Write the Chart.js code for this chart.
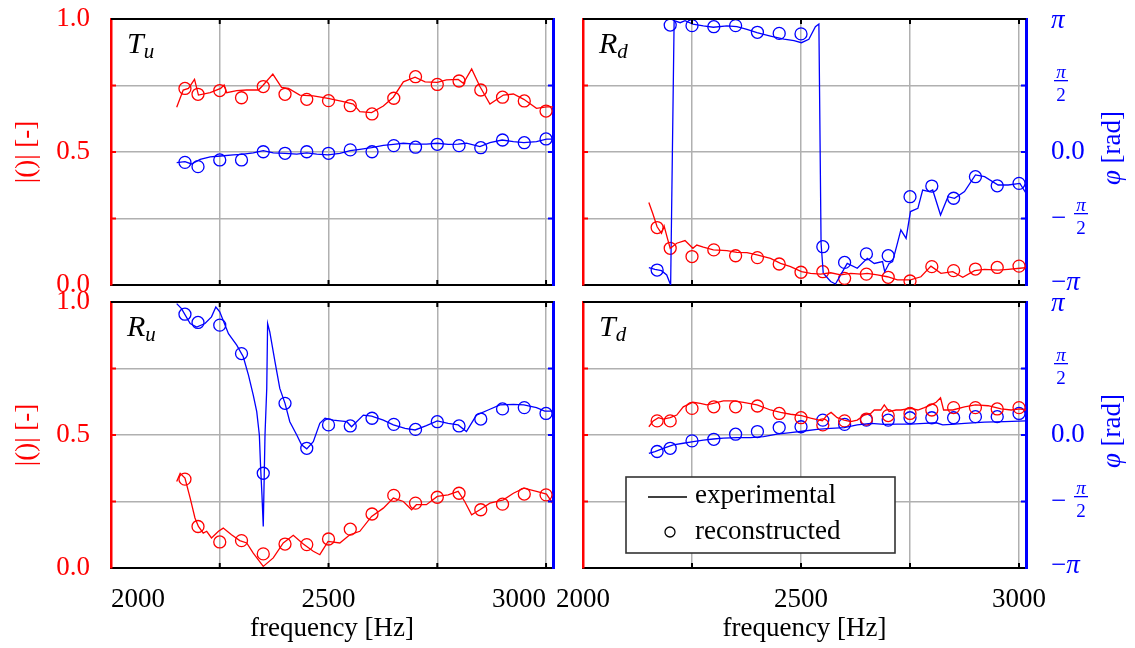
<!DOCTYPE html>
<html>
<head>
<meta charset="utf-8">
<script src="https://cdn.jsdelivr.net/npm/chart.js@4.4.1/dist/chart.umd.min.js"></script>
<style>
  html, body { margin: 0; padding: 0; background: #fff; }
  #wrap { position: relative; width: 1135px; height: 648px; }
  canvas { position: absolute; left: 0; top: 0; }
</style>
</head>
<body>
<div id="wrap">
  <canvas id="tu" width="1135" height="648"></canvas>
  <canvas id="rd" width="1135" height="648"></canvas>
  <canvas id="ru" width="1135" height="648"></canvas>
  <canvas id="td" width="1135" height="648"></canvas>
</div>
<script>
// axis ticks
const freqTicks = [2000, 2250, 2500, 2750, 3000];
const freqLabels = ['2000', '', '2500', '', '3000'];
const magTicks = [0, 0.25, 0.5, 0.75, 1];
const magLabels = ['0.0', '', '0.5', '', '1.0'];
const phaseTicks = [-Math.PI, -Math.PI / 2, 0, Math.PI / 2, Math.PI];

// reconstructed points (same frequencies in every panel)
const recFreq = [2170, 2200, 2250, 2300, 2350, 2400, 2450, 2500, 2550, 2600, 2650, 2700, 2750, 2800, 2850, 2900, 2950, 3000];

// T_u
const tuMagFreq = [2151, 2166, 2178, 2192, 2201, 2228, 2252, 2260, 2266, 2289, 2312, 2339, 2350, 2372, 2392, 2408, 2434, 2465, 2499, 2534, 2557, 2572, 2599, 2626, 2649, 2672, 2699, 2722, 2750, 2771, 2798, 2810, 2829, 2848, 2871, 2902, 2925, 2949, 2978, 3001, 3016];
const tuMag = [0.668, 0.733, 0.739, 0.773, 0.714, 0.723, 0.739, 0.752, 0.723, 0.731, 0.733, 0.733, 0.752, 0.793, 0.743, 0.739, 0.714, 0.711, 0.702, 0.689, 0.680, 0.652, 0.648, 0.673, 0.706, 0.764, 0.781, 0.764, 0.762, 0.771, 0.773, 0.758, 0.812, 0.746, 0.680, 0.714, 0.718, 0.698, 0.664, 0.670, 0.670];
const tuMagRec = [0.739, 0.717, 0.731, 0.704, 0.746, 0.717, 0.698, 0.693, 0.674, 0.643, 0.702, 0.783, 0.754, 0.767, 0.733, 0.706, 0.692, 0.654];
const tuPhFreq = [2151, 2170, 2185, 2205, 2228, 2252, 2281, 2300, 2327, 2350, 2373, 2400, 2427, 2450, 2473, 2499, 2526, 2550, 2572, 2599, 2626, 2649, 2672, 2699, 2725, 2750, 2775, 2798, 2817, 2848, 2871, 2899, 2925, 2949, 2978, 3001, 3016];
const tuPh = [-0.251, -0.226, -0.283, -0.176, -0.113, -0.094, -0.069, -0.057, -0.019, 0.031, -0.019, -0.031, -0.050, -0.019, -0.050, -0.069, -0.031, 0.031, 0.063, 0.101, 0.157, 0.182, 0.207, 0.188, 0.188, 0.207, 0.182, 0.188, 0.207, 0.126, 0.220, 0.283, 0.245, 0.220, 0.245, 0.302, 0.302];
const tuPhRec = [-0.245, -0.346, -0.188, -0.188, 0.006, -0.031, 0.006, -0.031, 0.050, 0.006, 0.151, 0.113, 0.182, 0.151, 0.101, 0.283, 0.220, 0.308];

// R_d
const rdMagFreq = [2151, 2160, 2170, 2180, 2186, 2193, 2200, 2215, 2234, 2252, 2261, 2276, 2299, 2330, 2353, 2376, 2399, 2430, 2453, 2476, 2501, 2522, 2545, 2568, 2591, 2614, 2637, 2652, 2675, 2698, 2721, 2751, 2775, 2798, 2821, 2848, 2871, 2898, 2921, 2952, 2975, 3002, 3016];
const rdMag = [0.310, 0.269, 0.219, 0.194, 0.222, 0.179, 0.138, 0.157, 0.167, 0.138, 0.150, 0.142, 0.132, 0.129, 0.123, 0.122, 0.113, 0.100, 0.081, 0.069, 0.050, 0.044, 0.041, 0.046, 0.038, 0.044, 0.041, 0.044, 0.038, 0.031, 0.019, 0.019, 0.031, 0.071, 0.044, 0.050, 0.029, 0.054, 0.059, 0.056, 0.059, 0.063, 0.065];
const rdMagRec = [0.216, 0.138, 0.107, 0.132, 0.110, 0.103, 0.079, 0.048, 0.050, 0.025, 0.041, 0.029, 0.015, 0.069, 0.054, 0.060, 0.066, 0.071];
const rdPhFreq = [2151, 2165, 2180, 2192, 2201, 2209, 2223, 2234, 2252, 2276, 2299, 2330, 2353, 2376, 2399, 2430, 2461, 2484, 2501, 2518, 2533, 2541, 2546, 2551, 2568, 2579, 2591, 2606, 2629, 2652, 2668, 2687, 2692, 2702, 2710, 2720, 2729, 2741, 2751, 2768, 2779, 2794, 2802, 2820, 2837, 2852, 2875, 2900, 2921, 2952, 2975, 3002, 3016];
const rdPh = [-2.733, -2.771, -2.802, -2.903, -3.142, 3.104, 3.054, 3.104, 3.023, 2.978, 2.947, 2.978, 2.960, 2.897, 2.821, 2.739, 2.664, 2.633, 2.582, 2.664, 2.960, 3.023, -2.155, -2.865, -3.060, -3.117, -2.903, -2.633, -2.746, -2.513, -2.633, -2.589, -2.827, -2.633, -2.589, -2.199, -1.841, -2.042, -1.407, -1.332, -0.898, -0.936, -0.898, -1.489, -1.056, -1.093, -0.936, -0.540, -0.584, -0.779, -0.779, -0.741, -0.974];
const rdPhRec = [-2.789, 2.998, 2.985, 2.960, 2.985, 2.827, 2.802, 2.790, -2.237, -2.608, -2.407, -2.450, -1.056, -0.804, -1.093, -0.584, -0.798, -0.741];

// R_u
const ruMagFreq = [2151, 2159, 2170, 2182, 2193, 2201, 2212, 2220, 2231, 2247, 2258, 2277, 2296, 2312, 2327, 2350, 2373, 2396, 2419, 2442, 2465, 2480, 2499, 2526, 2549, 2572, 2599, 2626, 2649, 2672, 2691, 2702, 2725, 2750, 2775, 2798, 2813, 2829, 2848, 2871, 2902, 2925, 2949, 2978, 3001, 3015];
const ruMag = [0.325, 0.356, 0.338, 0.263, 0.188, 0.156, 0.131, 0.138, 0.113, 0.138, 0.150, 0.125, 0.103, 0.094, 0.056, 0.006, 0.038, 0.094, 0.123, 0.090, 0.063, 0.050, 0.100, 0.094, 0.125, 0.138, 0.194, 0.225, 0.263, 0.250, 0.219, 0.238, 0.238, 0.269, 0.275, 0.288, 0.250, 0.200, 0.219, 0.244, 0.256, 0.281, 0.300, 0.288, 0.278, 0.244];
const ruMagRec = [0.334, 0.156, 0.098, 0.103, 0.053, 0.090, 0.088, 0.109, 0.146, 0.203, 0.273, 0.244, 0.266, 0.281, 0.219, 0.240, 0.278, 0.275];
const ruPhFreq = [2151, 2162, 2182, 2197, 2216, 2231, 2241, 2250, 2270, 2289, 2304, 2316, 2327, 2335, 2341, 2344, 2347, 2350, 2354, 2358, 2360, 2365, 2377, 2388, 2400, 2411, 2427, 2438, 2450, 2465, 2480, 2492, 2511, 2526, 2542, 2553, 2580, 2599, 2626, 2649, 2676, 2699, 2725, 2750, 2775, 2798, 2817, 2840, 2867, 2894, 2925, 2949, 2978, 2997, 3015];
const ruPh = [3.104, 2.985, 2.633, 2.551, 2.633, 2.790, 3.023, 2.909, 2.394, 2.124, 1.847, 1.414, 0.942, 0.553, 0, -0.785, -1.414, -2.161, 0, 1.100, 2.633, 2.438, 1.728, 1.100, 0.748, 0.314, 0, -0.232, -0.327, -0.157, 0.276, 0.396, 0.352, 0.333, 0.314, 0.195, 0.471, 0.446, 0.352, 0.239, 0.157, 0.119, 0.220, 0.333, 0.276, 0.239, 0.082, 0.471, 0.591, 0.710, 0.723, 0.710, 0.647, 0.565, 0.565];
const ruPhRec = [2.853, 2.658, 2.595, 1.923, -0.904, 0.748, -0.314, 0.239, 0.214, 0.396, 0.251, 0.132, 0.314, 0.214, 0.377, 0.616, 0.647, 0.509];

// T_d
const tdMagFreq = [2151, 2161, 2173, 2184, 2200, 2215, 2230, 2252, 2269, 2284, 2299, 2322, 2345, 2368, 2399, 2430, 2453, 2476, 2501, 2522, 2549, 2560, 2569, 2583, 2599, 2614, 2629, 2645, 2660, 2668, 2683, 2691, 2702, 2718, 2729, 2751, 2768, 2783, 2798, 2810, 2820, 2827, 2848, 2875, 2900, 2929, 2959, 2982, 3002, 3016];
const tdMag = [0.531, 0.553, 0.565, 0.560, 0.565, 0.575, 0.606, 0.623, 0.619, 0.613, 0.619, 0.628, 0.628, 0.623, 0.613, 0.594, 0.585, 0.578, 0.573, 0.563, 0.553, 0.575, 0.585, 0.565, 0.556, 0.550, 0.556, 0.575, 0.581, 0.594, 0.594, 0.613, 0.588, 0.594, 0.594, 0.600, 0.594, 0.603, 0.613, 0.623, 0.640, 0.594, 0.594, 0.606, 0.613, 0.610, 0.598, 0.594, 0.598, 0.594];
const tdMagRec = [0.553, 0.553, 0.600, 0.606, 0.606, 0.609, 0.581, 0.565, 0.538, 0.553, 0.560, 0.573, 0.581, 0.594, 0.603, 0.603, 0.598, 0.603];
const tdPhFreq = [2151, 2165, 2184, 2207, 2230, 2253, 2276, 2299, 2322, 2353, 2384, 2414, 2445, 2476, 2507, 2537, 2568, 2599, 2629, 2660, 2691, 2721, 2751, 2783, 2810, 2825, 2844, 2875, 2921, 2967, 3016];
const tdPh = [-0.434, -0.390, -0.314, -0.232, -0.195, -0.157, -0.119, -0.094, -0.075, -0.063, -0.063, -0.038, 0.019, 0.057, 0.094, 0.132, 0.157, 0.176, 0.239, 0.276, 0.251, 0.258, 0.258, 0.276, 0.289, 0.239, 0.251, 0.276, 0.302, 0.314, 0.333];
const tdPhRec = [-0.390, -0.314, -0.138, -0.101, 0.019, 0.082, 0.176, 0.195, 0.352, 0.251, 0.352, 0.352, 0.408, 0.408, 0.408, 0.433, 0.433, 0.509];

const RED = '#ff0000';
const BLUE = '#0000ff';
const GRID = '#b0b0b0';
const SERIF = '"Liberation Serif", "DejaVu Serif", serif';
const CLEAR = 'rgba(0,0,0,0)';

const pts = (xs, ys) => xs.map((x, i) => ({ x: x, y: ys[i] }));

function lineSet(xs, ys, color, axis) {
  return { data: pts(xs, ys), yAxisID: axis, borderColor: color, borderWidth: 1.3,
    pointRadius: 0, fill: false, tension: 0 };
}
function recSet(ys, color, axis) {
  return { data: pts(recFreq, ys), yAxisID: axis, showLine: false, borderColor: color,
    backgroundColor: CLEAR, pointBackgroundColor: CLEAR, pointBorderColor: color,
    pointBorderWidth: 1.3, pointRadius: 6 };
}

function seg(ctx, x1, y1, x2, y2) {
  ctx.beginPath(); ctx.moveTo(x1, y1); ctx.lineTo(x2, y2); ctx.stroke();
}

// pi/2 style fraction, centred at xc on the tick value y
function frac(ctx, xc, y) {
  ctx.textAlign = 'center';
  ctx.textBaseline = 'alphabetic';
  ctx.font = 'italic 19px ' + SERIF;
  ctx.fillText('π', xc, y - 8);
  ctx.fillRect(xc - 7, y - 5.5, 14, 1.3);
  ctx.font = '19px ' + SERIF;
  ctx.fillText('2', xc, y + 15);
}

function deco(p) {
  return {
    id: 'deco',
    afterDraw(chart) {
      const ctx = chart.ctx, a = chart.chartArea;
      const sx = chart.scales.x, sy = chart.scales.y, sp = chart.scales.y2;
      ctx.save();
      // top spine and inward ticks
      ctx.strokeStyle = '#000';
      ctx.lineWidth = 2;
      seg(ctx, a.left, a.top, a.right, a.top);
      freqTicks.slice(1).forEach(v => {
        const x = sx.getPixelForValue(v);
        seg(ctx, x, a.top, x, a.top + 5);
        seg(ctx, x, a.bottom - 5, x, a.bottom);
      });
      ctx.strokeStyle = RED;
      magTicks.slice(1, 4).forEach(v => {
        const y = sy.getPixelForValue(v);
        seg(ctx, a.left, y, a.left + 5, y);
      });
      ctx.strokeStyle = BLUE;
      phaseTicks.slice(1, 4).forEach(v => {
        const y = sp.getPixelForValue(v);
        seg(ctx, a.right - 5, y, a.right, y);
      });

      // panel name
      ctx.fillStyle = '#000';
      ctx.textAlign = 'left';
      ctx.textBaseline = 'alphabetic';
      ctx.font = 'italic 30px ' + SERIF;
      ctx.fillText(p.name, a.left + 16, a.top + 34);
      const w = ctx.measureText(p.name).width;
      ctx.font = 'italic 21px ' + SERIF;
      ctx.fillText(p.sub, a.left + 16 + w, a.top + 39);

      // phase axis labels on the right column
      if (!p.leftCol) {
        const x0 = a.right + 25;
        ctx.fillStyle = BLUE;
        ctx.textAlign = 'left';
        ctx.textBaseline = 'middle';
        ctx.font = 'italic 27px ' + SERIF;
        ctx.fillText('π', x0, sp.getPixelForValue(Math.PI) + 2);
        frac(ctx, x0 + 10, sp.getPixelForValue(Math.PI / 2));
        ctx.textAlign = 'left';
        ctx.textBaseline = 'middle';
        ctx.font = '27px ' + SERIF;
        ctx.fillText('0.0', x0, sp.getPixelForValue(0));
        ctx.fillText('−', x0, sp.getPixelForValue(-Math.PI / 2));
        frac(ctx, x0 + 30, sp.getPixelForValue(-Math.PI / 2));
        ctx.textAlign = 'left';
        ctx.textBaseline = 'middle';
        ctx.font = '27px ' + SERIF;
        ctx.fillText('−', x0, sp.getPixelForValue(-Math.PI) - 2);
        const mw = ctx.measureText('−').width;
        ctx.font = 'italic 27px ' + SERIF;
        ctx.fillText('π', x0 + mw, sp.getPixelForValue(-Math.PI) - 2);

        // rotated title
        ctx.save();
        ctx.translate(a.right + 87, (a.top + a.bottom) / 2 - 4);
        ctx.rotate(-Math.PI / 2);
        ctx.font = 'italic 27px ' + SERIF;
        const w1 = ctx.measureText('φ').width;
        ctx.font = '27px ' + SERIF;
        const w2 = ctx.measureText(' [rad]').width;
        ctx.textAlign = 'left';
        ctx.font = 'italic 27px ' + SERIF;
        ctx.fillText('φ', -(w1 + w2) / 2, 0);
        ctx.font = '27px ' + SERIF;
        ctx.fillText(' [rad]', -(w1 + w2) / 2 + w1, 0);
        ctx.restore();
      }

      // legend
      if (p.legend) {
        const bx = a.left + 43, by = a.top + 175;
        ctx.fillStyle = '#fff';
        ctx.fillRect(bx, by, 269, 76);
        ctx.strokeStyle = '#333';
        ctx.lineWidth = 1.6;
        ctx.strokeRect(bx, by, 269, 76);
        ctx.strokeStyle = '#000';
        ctx.lineWidth = 1.3;
        seg(ctx, bx + 22, by + 20, bx + 61, by + 20);
        ctx.beginPath();
        ctx.arc(bx + 44, by + 55, 5, 0, Math.PI * 2);
        ctx.stroke();
        ctx.fillStyle = '#000';
        ctx.textAlign = 'left';
        ctx.textBaseline = 'middle';
        ctx.font = '27px ' + SERIF;
        ctx.fillText('experimental', bx + 69, by + 19);
        ctx.fillText('reconstructed', bx + 69, by + 55);
      }
      ctx.restore();
    }
  };
}

function makePanel(id, rect, p) {
  const xh = p.bottomRow ? 80 : 0;
  new Chart(document.getElementById(id), {
    type: 'line',
    data: {
      datasets: [
        lineSet(p.magF, p.mag, RED, 'y'),
        lineSet(p.phF, p.ph, BLUE, 'y2'),
        recSet(p.magRec, RED, 'y'),
        recSet(p.phRec, BLUE, 'y2')
      ]
    },
    options: {
      responsive: false,
      animation: false,
      layout: { padding: { left: rect.l - 100, right: 1135 - rect.r - 60, top: rect.t, bottom: 648 - rect.b - xh } },
      plugins: { legend: { display: false }, tooltip: { enabled: false } },
      scales: {
        x: {
          type: 'linear', min: 2000, max: 3016,
          afterBuildTicks: s => { s.ticks = freqTicks.map(v => ({ value: v })); },
          afterFit: s => { s.height = xh; s.paddingLeft = 0; s.paddingRight = 0; },
          grid: { color: c => (c.tick && c.tick.value === 2000) ? CLEAR : GRID, lineWidth: 1.5, drawTicks: false },
          border: { color: '#000', width: 2 },
          ticks: { display: p.bottomRow, padding: 16, color: '#000', maxRotation: 0, autoSkip: false,
            align: p.xAlign || 'center',
            font: { family: SERIF, size: 27 }, callback: (v, i) => freqLabels[i] },
          title: { display: p.bottomRow, text: 'frequency [Hz]', color: '#000',
            font: { family: SERIF, size: 27 }, padding: { top: 0, bottom: 3 } }
        },
        y: {
          type: 'linear', position: 'left', min: 0, max: 1,
          afterBuildTicks: s => { s.ticks = magTicks.map(v => ({ value: v })); },
          afterFit: s => { s.width = 100; s.paddingTop = 0; s.paddingBottom = 0; },
          grid: { color: c => (c.tick && (c.tick.value === 0 || c.tick.value === 1)) ? CLEAR : GRID, lineWidth: 1.5, drawTicks: false },
          border: { color: RED, width: 2.5 },
          ticks: { display: p.leftCol, padding: 21, color: RED,
            font: { family: SERIF, size: 27 }, callback: (v, i) => magLabels[i] },
          title: { display: p.leftCol, text: '|()| [-]', color: RED,
            font: { family: SERIF, size: 27 }, padding: { top: 0, bottom: 0 } }
        },
        y2: {
          type: 'linear', position: 'right', min: -Math.PI, max: Math.PI,
          afterBuildTicks: s => { s.ticks = phaseTicks.map(v => ({ value: v })); },
          afterFit: s => { s.width = 60; s.paddingTop = 0; s.paddingBottom = 0; },
          grid: { drawOnChartArea: false, drawTicks: false },
          border: { color: BLUE, width: 3 },
          ticks: { display: false }
        }
      }
    },
    plugins: [deco(p)]
  });
}

makePanel('tu', { l: 111, r: 553, t: 19, b: 285 },
  { name: 'T', sub: 'u', leftCol: true, bottomRow: false,
    magF: tuMagFreq, mag: tuMag, magRec: tuMagRec, phF: tuPhFreq, ph: tuPh, phRec: tuPhRec });
makePanel('rd', { l: 583, r: 1026, t: 19, b: 285 },
  { name: 'R', sub: 'd', leftCol: false, bottomRow: false,
    magF: rdMagFreq, mag: rdMag, magRec: rdMagRec, phF: rdPhFreq, ph: rdPh, phRec: rdPhRec });
makePanel('ru', { l: 111, r: 553, t: 302, b: 568 },
  { name: 'R', sub: 'u', leftCol: true, bottomRow: true, xAlign: 'inner',
    magF: ruMagFreq, mag: ruMag, magRec: ruMagRec, phF: ruPhFreq, ph: ruPh, phRec: ruPhRec });
makePanel('td', { l: 583, r: 1026, t: 302, b: 568 },
  { name: 'T', sub: 'd', leftCol: false, bottomRow: true, legend: true,
    magF: tdMagFreq, mag: tdMag, magRec: tdMagRec, phF: tdPhFreq, ph: tdPh, phRec: tdPhRec });
</script>
</body>
</html>
